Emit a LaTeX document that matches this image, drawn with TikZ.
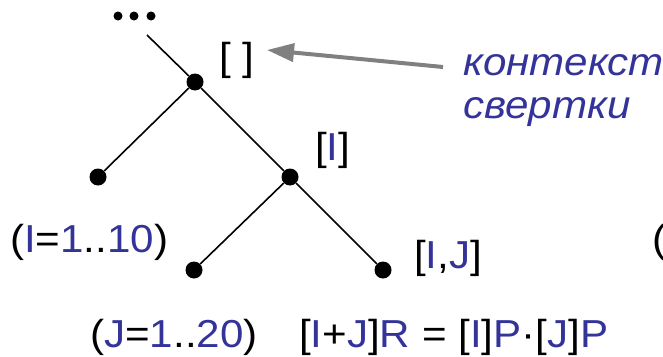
\documentclass[tikz,border=0pt]{standalone}
\usepackage{fontspec}
\setmainfont{Liberation Sans}[FakeStretch=1.08]
\usetikzlibrary{arrows.meta,positioning}
\definecolor{ink}{HTML}{000000}
\definecolor{idx}{HTML}{333399}
\definecolor{hint}{HTML}{808080}
\newcommand{\ix}[1]{\textcolor{idx}{#1}}
\tikzset{
  vertex/.style={circle, fill=ink, minimum size=17pt, inner sep=0pt},
  edge/.style={draw=ink, line width=1.6pt},
  lbl/.style={anchor=base west, inner sep=0pt, font=\fontsize{39}{44}\selectfont, text=ink},
  note/.style={lbl, font=\fontsize{39}{44}\selectfont\itshape, text=idx},
  pointer/.style={-{Triangle[length=27pt,width=18pt]}, line width=4pt, draw=hint}
}

\begin{document}
\begin{tikzpicture}[x=1pt,y=-1pt]
  \useasboundingbox (0,0) rectangle (663,356);
  \clip (0,0) rectangle (663,356);
  % tree
  \foreach \i/\x in {1/118,2/134,3/151}
    \node[vertex, minimum size=9pt] (more\i) at (\x,16) {};
  \coordinate (up) at (147,35);
  \node[vertex] (root) at (195,82) {};
  \node[vertex] (a) at (98,177) {};
  \node[vertex] (b) at (290,177) {};
  \node[vertex] (ba) at (194,270) {};
  \node[vertex] (bb) at (383,270) {};
  \draw[edge] (up) -- (root);
  \draw[edge] (root) -- (a);
  \draw[edge] (root) -- (b);
  \draw[edge] (b) -- (ba);
  \draw[edge] (b) -- (bb);
  % labels
  \node[lbl] (ctxroot) at (219,70) {[ ]};
  \node[lbl] (ctxb) at (315,160) {[\ix{I}]};
  \node[lbl] (ctxbb) at (414,268) {[\ix{I},\ix{J}]};
  \node[lbl] (rngi) at (10,252) {(\ix{I}=\ix{1}..\ix{10})};
  \node[lbl] (rngj) at (90,347) {(\ix{J}=\ix{1}..\ix{20})};
  \node[lbl] (rule) at (299,347) {[\ix{I}+\ix{J}]\ix{R} = [\ix{I}]\ix{P}·[\ix{J}]\ix{P}};
  \node[lbl] (cut) at (652,252) {(};
  % note
  \node[note] (ctx1) at (463,75) {контекст};
  \node[note] (ctx2) at ([yshift=-43pt]ctx1.base west) {свертки};
  \coordinate (tail) at (443,67);
  \coordinate (tip) at (267,50);
  \draw[pointer] (tail) -- (tip);
\end{tikzpicture}
\end{document}
